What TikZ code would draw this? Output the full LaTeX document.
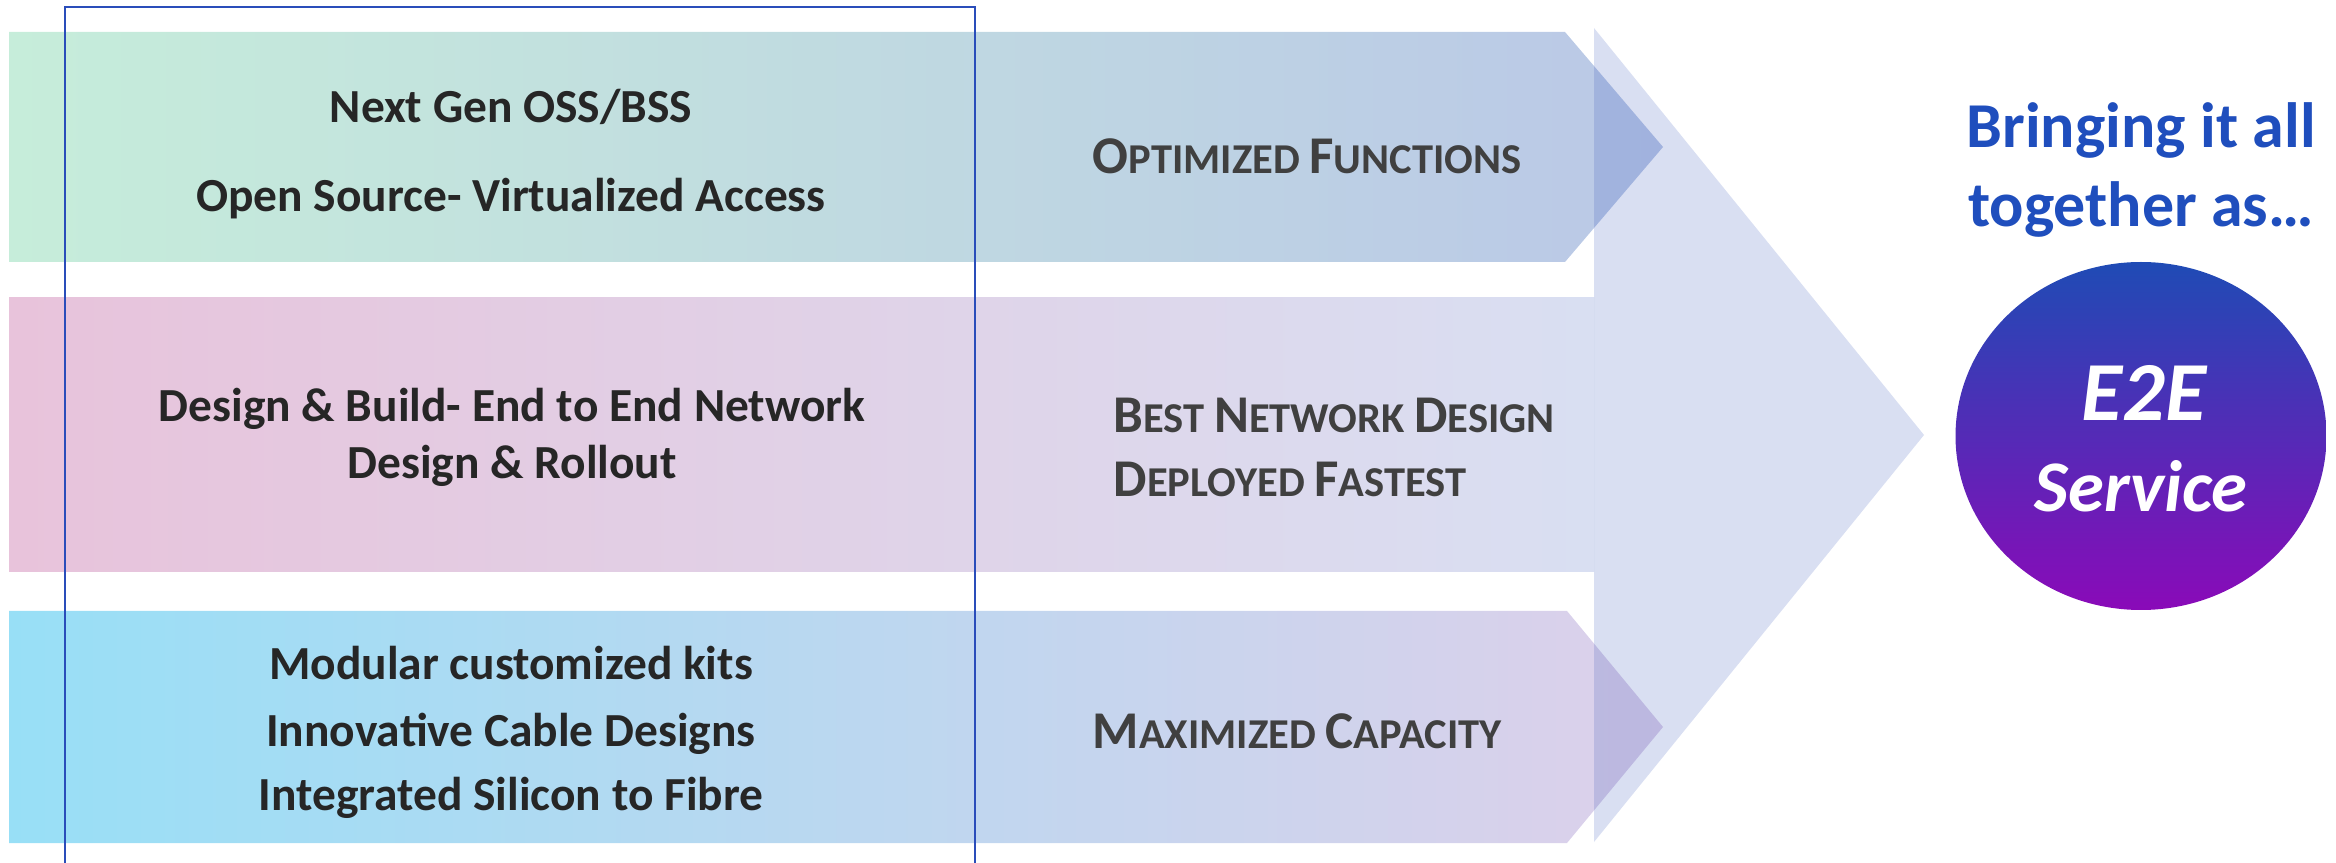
\documentclass[tikz,border=0pt]{standalone}
\usepackage{fontspec}
\setmainfont{Carlito}
\usetikzlibrary{shapes.geometric}

\definecolor{framebl}{RGB}{42,77,186}
\definecolor{headbl}{RGB}{55,85,185}
\definecolor{txtdark}{RGB}{38,38,38}
\definecolor{txtgray}{RGB}{64,64,64}
\definecolor{titlebl}{RGB}{31,78,189}
\definecolor{mintL}{RGB}{198,237,218}
\definecolor{blueR}{RGB}{186,200,231}
\definecolor{pinkL}{RGB}{232,195,219}
\definecolor{lavR}{RGB}{217,223,242}
\definecolor{cyanL}{RGB}{152,223,246}
\definecolor{lilacR}{RGB}{221,208,234}
\definecolor{ellTop}{RGB}{31,75,181}
\definecolor{ellBot}{RGB}{138,10,184}

% first letter large, rest as small capitals
\newcommand{\scw}[2]{{\fontsize{15.1pt}{18pt}\selectfont #1}#2}

\tikzset{
  bandtxt/.style={font=\bfseries\fontsize{13.5pt}{16pt}\selectfont, text=txtdark, inner sep=0pt, anchor=base},
  restxt/.style={font=\bfseries\fontsize{12.1pt}{14pt}\selectfont, text=txtgray, inner sep=0pt, anchor=base west},
  titletxt/.style={font=\bfseries\fontsize{18.2pt}{22pt}\selectfont, text=titlebl, inner sep=0pt, anchor=base},
  svctxt/.style={text=white, inner sep=0pt, anchor=base},
  svcshape/.style={ellipse, minimum width=37.1mm, minimum height=34.8mm, inner sep=0pt, top color=ellTop, bottom color=ellBot}
}

\begin{document}
\begin{tikzpicture}[x=0.1mm,y=-0.1mm]
  \useasboundingbox (0,0) rectangle (2336,863);

  % bands
  \shade[left color=pinkL, right color=lavR] (9,298) rectangle (1594,572);
  \shade[left color=mintL, right color=blueR] (9,32) -- (1565,32) -- (1663,147) -- (1565,262) -- (9,262) -- cycle;
  \shade[left color=cyanL, right color=lilacR] (9,611) -- (1567,611) -- (1663,727) -- (1567,843) -- (9,843) -- cycle;

  % big arrow head
  \fill[headbl, fill opacity=0.19] (1594,28) -- (1924,435) -- (1594,842) -- cycle;

  % frame
  \draw[framebl, line width=0.6pt] (65,7) rectangle (975,900);

  % left texts
  \node[bandtxt] at(511,123)(oss){Next Gen OSS/BSS};
  \node[bandtxt] at(511,212)(osrc){Open Source- Virtualized Access};
  \node[bandtxt] at(512,422)(dnb){Design \& Build- End to End Network};
  \node[bandtxt] at(512,479)(dnr){Design \& Rollout};
  \node[bandtxt] at(511,680)(kits){Modular customized kits};
  \node[bandtxt] at(511,746)(cable){Innovative Cable Designs};
  \node[bandtxt] at(511,810)(silicon){Integrated Silicon to Fibre};

  % results
  \node[restxt] at(1092,174)(optf){\scw{O}{PTIMIZED} \scw{F}{UNCTIONS}};
  \node[restxt] at(1113,433)(bestnd){\scw{B}{EST} \scw{N}{ETWORK} \scw{D}{ESIGN}};
  \node[restxt] at(1113,497)(deplf){\scw{D}{EPLOYED} \scw{F}{ASTEST}};
  \node[restxt] at(1092,749)(maxcap){\scw{M}{AXIMIZED} \scw{C}{APACITY}};

  % outcome
  \node[titletxt] at(2141,148)(bring){Bringing it all};
  \node[titletxt] at(2141,227)(togeth){together as…};
  \node[svcshape] at(2141,436)(svc){};
  \node[svctxt, font=\bfseries\itshape\fontsize{23.9pt}{28pt}\selectfont] at(2144,421)(e2e){E2E};
  \node[svctxt, font=\bfseries\itshape\fontsize{20.7pt}{25pt}\selectfont] at(2141,512)(svcname){Service};

\end{tikzpicture}
\end{document}
